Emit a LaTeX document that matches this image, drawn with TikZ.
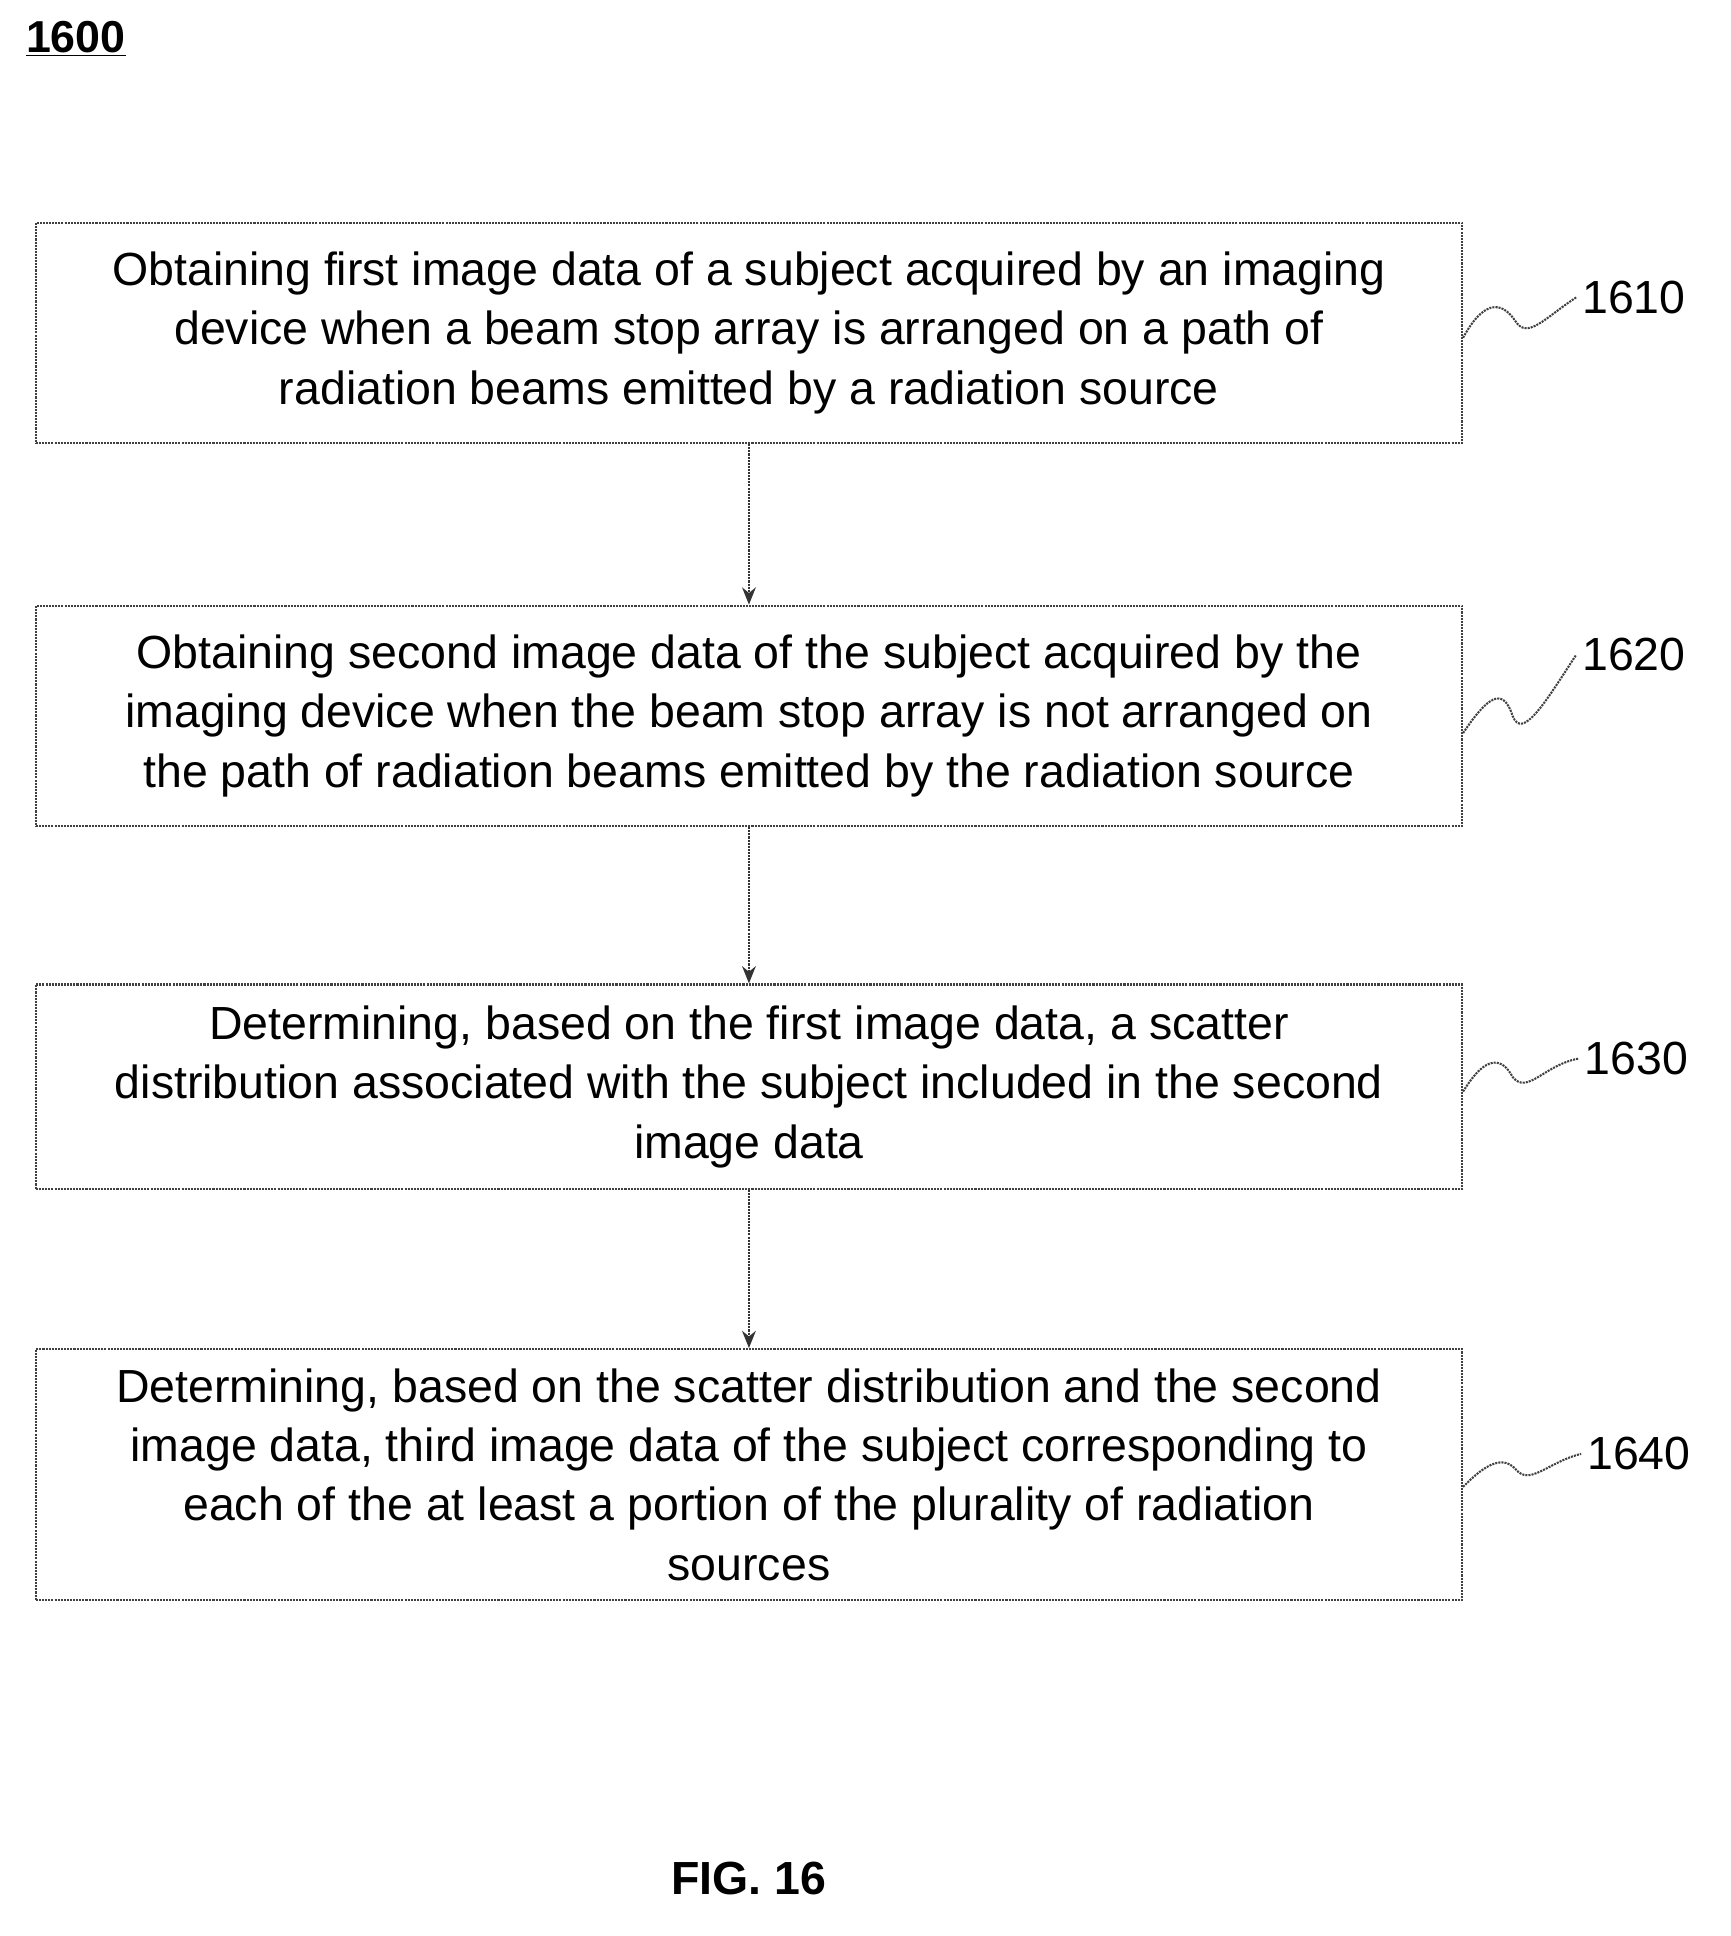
\documentclass[tikz,border=0pt]{standalone}
\usepackage{fontspec}
\setmainfont{Liberation Sans}
\usetikzlibrary{positioning,arrows.meta}
\tikzset{
  stepbox/.style={draw=black!75,line width=1.3pt,dash pattern=on 1.2pt off 0.6pt,
    minimum width=29.125cm,align=center,inner sep=0pt,
    font=\fontsize{27}{34.5}\selectfont},
  flow/.style={draw=black!80,line width=1.2pt,dash pattern=on 1.2pt off 0.6pt,
    -{Stealth[length=10pt,width=8pt]}},
  squig/.style={draw=black!75,line width=1.2pt,dash pattern=on 1.2pt off 0.6pt},
  tag/.style={font=\fontsize{27}{32}\selectfont,anchor=west}
}
\begin{document}
\begin{tikzpicture}[x=0.025cm,y=-0.025cm]
  \useasboundingbox (0,0) rectangle (1414,1582);
  \node[font=\bfseries\fontsize{26}{30}\selectfont] (title) at (62,32) {\underline{1600}};

  \node[stepbox,minimum height=4.5cm] (S1) at (612,272) {Obtaining first image data of a subject acquired by an imaging\\ device when a beam stop array is arranged on a path of\\ radiation beams emitted by a radiation source};
  \node[stepbox,minimum height=4.5cm] (S2) at (612,585) {Obtaining second image data of the subject acquired by the\\ imaging device when the beam stop array is not arranged on\\ the path of radiation beams emitted by the radiation source};
  \node[stepbox,minimum height=4.175cm] (S3) at (612,888) {Determining, based on the first image data, a scatter\\ distribution associated with the subject included in the second\\ image data};
  \node[stepbox,minimum height=5.125cm] (S4) at (612,1205) {Determining, based on the scatter distribution and the second\\ image data, third image data of the subject corresponding to\\ each of the at least a portion of the plurality of radiation\\ sources};

  \draw[flow] (S1) -- (S2);
  \draw[flow] (S2) -- (S3);
  \draw[flow] (S3) -- (S4);

  % step numbers
  \node[tag] (T1) at (1288,243) {1610};
  \node[tag] (T2) at (1288,535) {1620};
  \node[tag] (T3) at (1290,865) {1630};
  \node[tag] (T4) at (1292,1188) {1640};

  \draw[squig] ([yshift=-0.1cm]S1.east) .. controls (1215,240) and (1230,250) .. (1238,262) .. controls (1248,278) and (1262,260) .. (T1.west);
  \draw[squig] ([yshift=-0.35cm]S2.east) .. controls (1215,570) and (1228,560) .. (1236,585) .. controls (1244,605) and (1262,575) .. (T2.west);
  \draw[squig] ([yshift=-0.1cm]S3.east) .. controls (1215,860) and (1228,865) .. (1236,880) .. controls (1248,895) and (1262,870) .. (T3.west);
  \draw[squig] ([yshift=-0.25cm]S4.east) .. controls (1215,1195) and (1228,1190) .. (1238,1200) .. controls (1250,1215) and (1264,1195) .. (T4.west);

  \node[font=\bfseries\fontsize{27}{32}\selectfont] (fig) at (612,1535) {FIG. 16};
\end{tikzpicture}
\end{document}
